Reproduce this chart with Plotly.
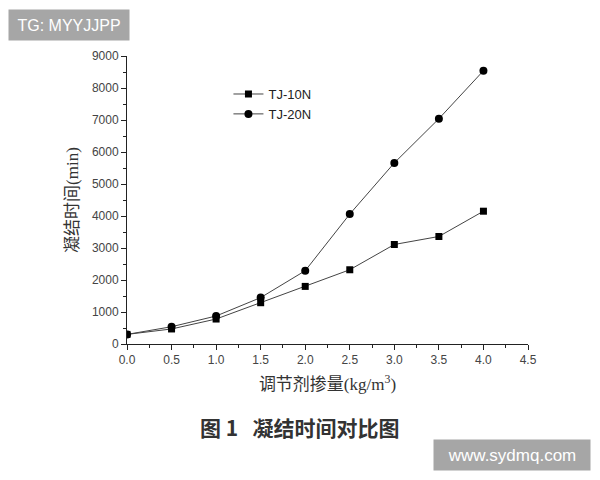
import plotly.graph_objs as go

# dosage of regulator (kg/m3)
dosage = [0.0, 0.5, 1.0, 1.5, 2.0, 2.5, 3.0, 3.5, 4.0]

# setting time (min)
tj_10n = [300, 470, 780, 1290, 1800, 2320, 3110, 3360, 4150]
tj_20n = [300, 540, 875, 1450, 2290, 4060, 5660, 7040, 8540]

x_ticks = [0.0, 0.5, 1.0, 1.5, 2.0, 2.5, 3.0, 3.5, 4.0, 4.5]
y_ticks = [0, 1000, 2000, 3000, 4000, 5000, 6000, 7000, 8000, 9000]

line_style = dict(color="#444444", width=1)

fig = go.Figure()
fig.add_trace(go.Scatter(
    x=dosage, y=tj_10n, name="TJ-10N", mode="lines+markers",
    line=line_style,
    marker=dict(symbol="square", size=7, color="black")
))
fig.add_trace(go.Scatter(
    x=dosage, y=tj_20n, name="TJ-20N", mode="lines+markers",
    line=line_style,
    marker=dict(symbol="circle", size=8, color="black")
))

axis_common = dict(
    showgrid=False,
    zeroline=False,
    showline=True,
    linecolor="#222222",
    linewidth=1,
    ticks="outside",
    ticklen=5,
    tickwidth=1,
    tickcolor="#222222",
    tickfont=dict(family="Liberation Sans, Arial", size=12, color="#444444"),
)

# the page body has an 8px margin, so the figure is 8px smaller than the window
fig.update_layout(
    width=592,
    height=472,
    paper_bgcolor="white",
    plot_bgcolor="white",
    margin=dict(l=119, r=72, t=48, b=136),
    showlegend=True,
    legend=dict(
        x=0.253, y=0.92, xanchor="left", yanchor="top",
        bgcolor="rgba(0,0,0,0)",
        font=dict(family="Liberation Sans, Arial", size=13, color="#222222"),
        itemwidth=30,
        tracegroupgap=0,
    ),
    xaxis=dict(
        axis_common,
        range=[0, 4.5],
        tickvals=x_ticks,
        ticktext=["%.1f" % v for v in x_ticks],
        minor=dict(ticks="outside", ticklen=3, dtick=0.25, tickcolor="#222222"),
        title=dict(
            text="调节剂掺量(kg/m<sup>3</sup>)",
            font=dict(family="Liberation Serif, Noto Sans CJK SC", size=17, color="#333333"),
            standoff=11,
        ),
    ),
    yaxis=dict(
        axis_common,
        range=[0, 9000],
        tickvals=y_ticks,
        minor=dict(ticks="outside", ticklen=3, dtick=500, tickcolor="#222222"),
        title=dict(
            text="凝结时间(min)",
            font=dict(family="Liberation Serif, Noto Sans CJK SC", size=17, color="#333333"),
            standoff=8,
        ),
    ),
    annotations=[
        dict(
            text="<b>图 1   凝结时间对比图</b>",
            xref="paper", yref="paper", x=0.431, y=-0.288,
            xanchor="center", yanchor="middle", showarrow=False,
            font=dict(family="Noto Sans CJK SC", size=21, color="#333333"),
        ),
        dict(
            text="TG: MYYJJPP",
            xref="paper", yref="paper", x=-0.1446, y=1.1076,
            xanchor="center", yanchor="middle", showarrow=False,
            width=120, height=30, align="center",
            bgcolor="#a6a6a6", borderpad=0,
            font=dict(family="Liberation Sans, Arial", size=16, color="white"),
        ),
        dict(
            text="www.sydmq.com",
            xref="paper", yref="paper", x=0.960, y=-0.385,
            xanchor="center", yanchor="middle", showarrow=False,
            width=156, height=30, align="center",
            bgcolor="#a6a6a6", borderpad=0,
            font=dict(family="Liberation Sans, Arial", size=17, color="white"),
        ),
    ],
)

fig.write_html("out.html")
